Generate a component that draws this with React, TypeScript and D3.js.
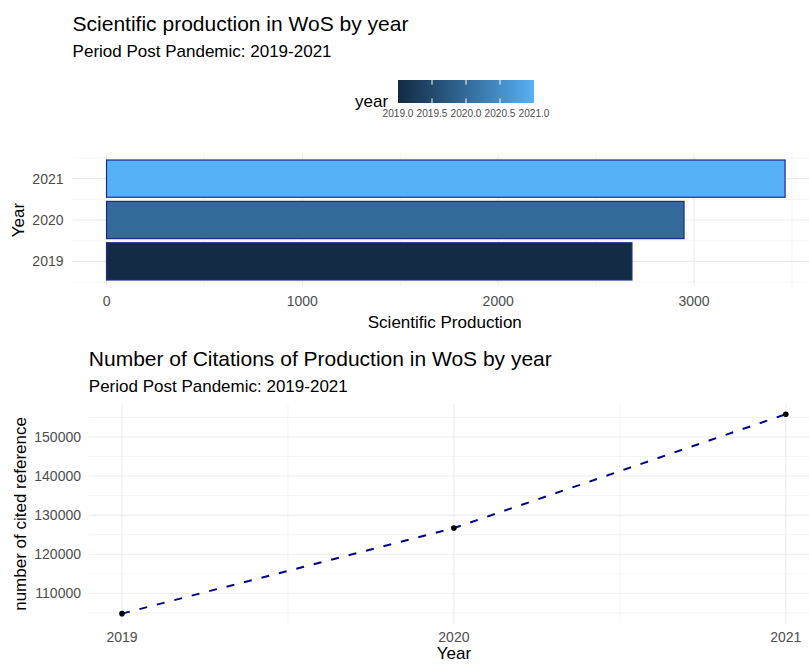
import React from 'react';
import * as d3 from 'd3';

// Data
const years = [2019, 2020, 2021];
const production = [2683, 2949, 3465];
const citations = [104800, 126700, 155800];

const prodTicks = [0, 1000, 2000, 3000];
const prodMinor = [500, 1500, 2500, 3500];
const citeTicks = [110000, 120000, 130000, 140000, 150000];
const citeMinor = [105000, 115000, 125000, 135000, 145000, 155000];
const yearMinor = [2018.5, 2019.5, 2020.5, 2021.5];
const legendTicks = [2019, 2019.5, 2020, 2020.5, 2021];

const W = 809;
const H = 664;
const FONT = '"Liberation Sans", Arial, sans-serif';
const GRID = '#EBEBEB';
const TICK = '#4D4D4D';
const LOW = '#132B43';
const HIGH = '#56B1F7';

// expand a numeric extent by 5% like ggplot
const expand = (lo: number, hi: number) => {
  const pad = (hi - lo) * 0.05;
  return [lo - pad, hi + pad];
};

const App: React.FC = () => {
  const fill = d3.scaleLinear<string>()
    .domain([2019, 2021])
    .range([LOW, HIGH])
    .interpolate(d3.interpolateLab);

  // ---- top chart: horizontal bars ----
  const maxProd = d3.max(production) || 0;
  const x1 = d3.scaleLinear().domain(expand(0, maxProd)).range([72.6, 819]);
  const y1 = d3.scaleLinear().domain(expand(2018.55, 2021.45)).range([286, 154]);
  const barH = Math.abs(y1(0.9) - y1(0));
  const [p1L, p1R] = x1.range();
  const [p1B, p1T] = y1.range();

  // ---- bottom chart: line ----
  const x2 = d3.scaleLinear().domain(expand(2019, 2021)).range([88.8, 819]);
  const [cLo, cHi] = d3.extent(citations) as [number, number];
  const y2 = d3.scaleLinear().domain(expand(cLo, cHi)).range([623.6, 404.3]);
  const [p2L, p2R] = x2.range();
  const [p2B, p2T] = y2.range();
  const line = d3.line<number>()
    .x((_, i) => x2(years[i]))
    .y(d => y2(d));

  // ---- legend ----
  const lg = d3.scaleLinear().domain([2019, 2021]).range([398, 534]);
  const lgStep = lg(2019.5) - lg(2019);

  return (
    <svg width={W} height={H} style={{ position: 'absolute', left: 0, top: 0, background: '#fff' }}
      fontFamily={FONT}>
      <defs>
        <linearGradient id="yearGrad" x1="0" x2="1" y1="0" y2="0">
          {d3.range(0, 1.01, 0.1).map(t => (
            <stop key={t} offset={t} stopColor={fill(2019 + 2 * t)} />
          ))}
        </linearGradient>
        <clipPath id="clip1"><rect x={p1L} y={p1T} width={W - p1L} height={p1B - p1T} /></clipPath>
      </defs>

      {/* Titles top chart */}
      <text x={72.6} y={31} fontSize={21} fill="#000">Scientific production in WoS by year</text>
      <text x={72.6} y={57} fontSize={17} fill="#000">Period Post Pandemic: 2019-2021</text>

      {/* Legend */}
      <text x={355} y={107} fontSize={17} fill="#000">year</text>
      <rect x={lg(2019)} y={80} width={lg(2021) - lg(2019)} height={23} fill="url(#yearGrad)" />
      {legendTicks.slice(1, -1).map(t => (
        <g key={t} stroke="#fff" strokeWidth={1}>
          <line x1={lg(t)} x2={lg(t)} y1={80} y2={84.6} />
          <line x1={lg(t)} x2={lg(t)} y1={98.4} y2={103} />
        </g>
      ))}
      {legendTicks.map(t => (
        <text key={t} x={lg(t)} y={117} fontSize={11} fill={TICK} textAnchor="middle"
          textLength={lgStep - 3} lengthAdjust="spacingAndGlyphs">{t.toFixed(1)}</text>
      ))}

      {/* Top panel grid */}
      <g>
        {prodMinor.map(v => (
          <line key={'m' + v} x1={x1(v)} x2={x1(v)} y1={p1T} y2={p1B} stroke={GRID} strokeWidth={0.55} />
        ))}
        {yearMinor.map(v => (
          <line key={'ym' + v} x1={p1L} x2={p1R} y1={y1(v)} y2={y1(v)} stroke={GRID} strokeWidth={0.55} />
        ))}
        {prodTicks.map(v => (
          <line key={v} x1={x1(v)} x2={x1(v)} y1={p1T} y2={p1B} stroke={GRID} strokeWidth={1.1} />
        ))}
        {years.map(v => (
          <line key={'y' + v} x1={p1L} x2={p1R} y1={y1(v)} y2={y1(v)} stroke={GRID} strokeWidth={1.1} />
        ))}
      </g>

      {/* Bars */}
      <g clipPath="url(#clip1)">
        {years.map((yr, i) => (
          <rect key={yr}
            x={x1(0)}
            y={y1(yr + 0.45)}
            width={x1(production[i]) - x1(0)}
            height={barH}
            fill={fill(yr)}
            stroke="#1B2A8C"
            strokeWidth={1.2} />
        ))}
      </g>

      {/* Top axes */}
      {years.map(yr => (
        <text key={yr} x={63.5} y={y1(yr) + 5} fontSize={14} fill={TICK} textAnchor="end">{yr}</text>
      ))}
      {prodTicks.map(v => (
        <text key={v} x={x1(v)} y={306} fontSize={14} fill={TICK} textAnchor="middle">{v}</text>
      ))}
      <text x={(p1L + p1R) / 2 - 1} y={328} fontSize={17} fill="#000" textAnchor="middle">Scientific Production</text>
      <text transform={`translate(24,${(p1T + p1B) / 2}) rotate(-90)`} fontSize={17} fill="#000" textAnchor="middle">Year</text>

      {/* Titles bottom chart */}
      <text x={88.8} y={366} fontSize={21} fill="#000">Number of Citations of Production in WoS by year</text>
      <text x={88.8} y={392} fontSize={17} fill="#000">Period Post Pandemic: 2019-2021</text>

      {/* Bottom panel grid */}
      <g>
        {citeMinor.map(v => (
          <line key={'m' + v} x1={p2L} x2={p2R} y1={y2(v)} y2={y2(v)} stroke={GRID} strokeWidth={0.55} />
        ))}
        {[2019.5, 2020.5].map(v => (
          <line key={'xm' + v} x1={x2(v)} x2={x2(v)} y1={p2T} y2={p2B} stroke={GRID} strokeWidth={0.55} />
        ))}
        {citeTicks.map(v => (
          <line key={v} x1={p2L} x2={p2R} y1={y2(v)} y2={y2(v)} stroke={GRID} strokeWidth={1.1} />
        ))}
        {years.map(v => (
          <line key={'x' + v} x1={x2(v)} x2={x2(v)} y1={p2T} y2={p2B} stroke={GRID} strokeWidth={1.1} />
        ))}
      </g>

      {/* Line and points */}
      <path d={line(citations) || ''} fill="none" stroke="#00008B" strokeWidth={2} strokeDasharray="8,10" />
      {years.map((yr, i) => (
        <circle key={yr} cx={x2(yr)} cy={y2(citations[i])} r={2.8} fill="#000" />
      ))}

      {/* Bottom axes */}
      {citeTicks.map(v => (
        <text key={v} x={81} y={y2(v) + 5} fontSize={14} fill={TICK} textAnchor="end">{v}</text>
      ))}
      {years.map(yr => (
        <text key={yr} x={x2(yr)} y={642} fontSize={14} fill={TICK} textAnchor="middle">{yr}</text>
      ))}
      <text x={x2(2020)} y={659} fontSize={17} fill="#000" textAnchor="middle">Year</text>
      <text transform={`translate(26,${(p2T + p2B) / 2}) rotate(-90)`} fontSize={17} fill="#000" textAnchor="middle">number of cited reference</text>
    </svg>
  );
};

export default App;
